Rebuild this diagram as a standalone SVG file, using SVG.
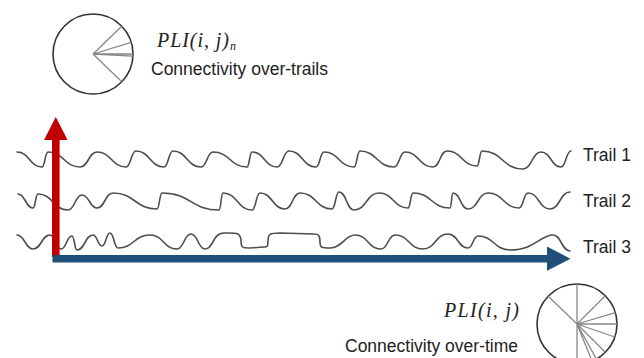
<svg xmlns="http://www.w3.org/2000/svg" width="644" height="358" viewBox="0 0 644 358">
<style>
.wave{fill:none;stroke:#4d4d4d;stroke-width:1.6;stroke-linejoin:round;stroke-linecap:round}
.rim{fill:#fff;stroke:#333;stroke-width:1.6}
.spoke{stroke:#888;stroke-width:1.3;fill:none}
.lbl{font-family:"Liberation Sans",Arial,sans-serif;font-size:17.5px;fill:#222}
.math{font-family:"Liberation Serif","Times New Roman",serif;font-style:italic;font-size:20px;fill:#222}
.sub{font-family:"Liberation Serif","Times New Roman",serif;font-style:italic;font-size:12px;fill:#222}
</style>
<rect width="644" height="358" fill="#fff"/>

<g id="pli-over-trails">
<circle class="rim" cx="93" cy="54" r="40"/>
<path class="spoke" d="M93,54L121.8,26.2M93,54L131.3,42.3M93,54L133,54M93,54L132.9,56.1M93,54L121.8,81.8"/>
<text class="math" x="157" y="47" textLength="72" lengthAdjust="spacing">PLI(i, j)</text>
<text class="sub" x="230" y="50">n</text>
<text class="lbl" x="151" y="75" textLength="177" lengthAdjust="spacingAndGlyphs">Connectivity over-trails</text>
</g>

<g id="trail1">
<path class="wave" d="M17,152C29.5,152 29.5,167 42,167C45,167 45,152 48,152C64,152 64,167 80,167C88.5,167 88.5,152 97,152C111.5,152 111.5,167 126,167C131,167 131,151 136,151C150,151 150,167 164,167C168.5,167 168.5,151 173,151C187,151 187,167 201,167C207,167 207,152 213,152C230,152 230,167 247,167C249.5,167 249.5,152 252,152C264.5,152 264.5,167 277,167C283,167 283,151 289,151C302.5,151 302.5,167 316,167C320,167 320,152 324,152C339,152 339,167 354,167C357,167 357,151 360,151C377,151 377,167 394,167C399.5,167 399.5,152 405,152C419,152 419,167 433,167C440,167 440,151 447,151C462,151 462,166 477,166C479.5,166 479.5,151 482,151C502.5,151 502.5,169 523,169C532,169 532,152 541,152C551,152 551,167 561,167C566,167 566,151 571,151"/>
<text class="lbl" x="583" y="161">Trail 1</text>
</g>

<g id="trail2">
<path class="wave" d="M18,194C25.5,194 25.5,208 33,208C35.5,208 35.5,194 38,194C53,194 53,210 68,210C75,210 75,195 82,195C89.5,195 89.5,208 97,208C105,208 105,193 113,193C135,193 135,209 157,209C159.5,209 159.5,193 162,193C191,193 191,210 219,210C221,210 221,193 223,193C237.5,193 237.5,210 252,210C256,210 256,193 260,193C272.5,193 272.5,209 285,209C292.5,209 292.5,193 300,193C316,193 316,209 332,209C335.5,209 335.5,192 339,192C346.5,192 346.5,210 354,210C366.5,210 366.5,193 379,193C393.5,193 393.5,208 408,208C410.5,208 410.5,193 413,193C431.5,193 431.5,208 450,208C451.5,208 451.5,193 453,193C460.5,193 460.5,209 468,209C478,209 478,193 488,193C503.5,193 503.5,208 519,208C523.5,208 523.5,193 528,193C539,193 539,209 550,209C560,209 560,192 570,192"/>
<text class="lbl" x="583" y="207">Trail 2</text>
</g>

<g id="trail3">
<path class="wave" d="M17,235C25,235 25,249 33,249C41.5,249 41.5,235 50,235C55.5,235 55.5,249 61,249C66.5,249 66.5,236 72,236C74.5,236 74.5,250 77,250C85,250 85,235 93,235C97.5,235 97.5,246 102,246C106,246 106,233 110,233C114,233 114,248 118,248C134,248 134,235 150,235C163.5,235 163.5,249 177,249C184,249 184,234 191,234C198,234 198,249 205,249C214,249 212,233 224,233C236,233 240,232 241,240C241,248 242,248 250,248L264,247C268,247 268,246 268,241C268,234 270,233 280,233L314,234C319,234 320,236 320,242C320,248 322,248 330,248C342,248 345,235 355,235C368,235 368,249 381,249C388,249 388,235 395,235C409,235 409,249 423,249C435.5,249 435.5,234 448,234C458,234 458,248 468,248C473,248 473,236 478,236C494,236 494,250 510,250C535,250 540,235 553,235C561.5,235 561.5,251 570,251"/>
<text class="lbl" x="583" y="253">Trail 3</text>
</g>

<g id="pli-over-time">
<circle class="rim" cx="577" cy="324" r="40"/>
<path class="spoke" d="M577,284L577,364M577,324L548.2,296.2M577,324L605.3,295.7M577,324L615.4,312.6M577,324L617,324M577,324L614.8,337M577,324L605.3,352.3M577,324L596.4,359M577,324L592,361"/>
<text class="math" x="444" y="317" textLength="75" lengthAdjust="spacing">PLI(i, j)</text>
<text class="lbl" x="345" y="352" textLength="173" lengthAdjust="spacingAndGlyphs">Connectivity over-time</text>
</g>

<g id="connectors">
<polygon id="axis-trials" fill="#C00000" points="52,257 52,140 44,140 55.8,117 67.6,140 59.6,140 59.6,257"/>
<polygon id="axis-time" fill="#1F4E79" points="52.5,255 547,255 547,246.5 570.5,258.7 547,270.8 547,262.5 52.5,262.5"/>
</g>
</svg>
